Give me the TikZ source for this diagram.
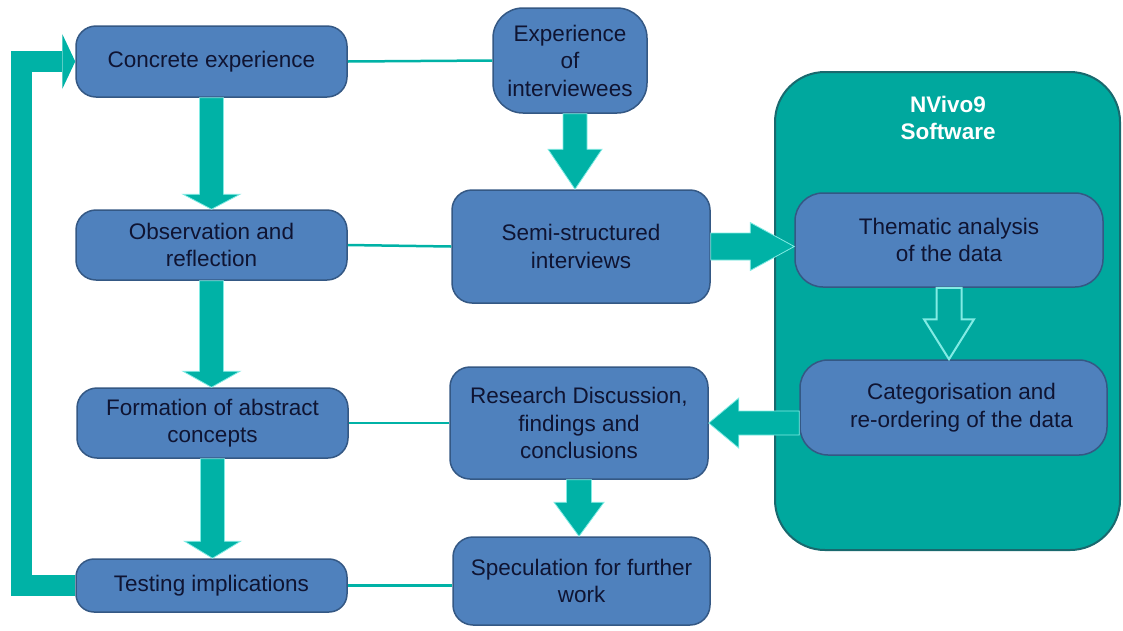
\documentclass[tikz,border=0pt]{standalone}
\usepackage{fontspec}
\setmainfont{Liberation Sans}
\usetikzlibrary{calc}
\definecolor{boxblue}{RGB}{79,129,189}
\definecolor{boxedge}{RGB}{52,88,132}
\definecolor{txt}{RGB}{15,20,50}
\definecolor{arr}{RGB}{0,178,166}
\definecolor{nvfill}{RGB}{0,168,158}
\definecolor{nvedge}{RGB}{25,105,110}
\definecolor{glow}{RGB}{130,235,228}
% block arrows: [style]{from}{to}{shaft half width}{head half width}{head length}
\newcommand\bdown[6][]{\path[blockarrow,#1] let \p1=(#2),\p2=(#3) in (\x1-#4,\y1)--(\x1-#4,\y2+#6)--(\x1-#5,\y2+#6)--(\x1,\y2)--(\x1+#5,\y2+#6)--(\x1+#4,\y2+#6)--(\x1+#4,\y1)--cycle;}
\newcommand\bright[6][]{\path[blockarrow,#1] let \p1=(#2),\p2=(#3) in (\x1,\y1+#4)--(\x2-#6,\y1+#4)--(\x2-#6,\y1+#5)--(\x2,\y1)--(\x2-#6,\y1-#5)--(\x2-#6,\y1-#4)--(\x1,\y1-#4)--cycle;}
\newcommand\bleft[6][]{\path[blockarrow,#1] let \p1=(#2),\p2=(#3) in (\x1,\y1+#4)--(\x2+#6,\y1+#4)--(\x2+#6,\y1+#5)--(\x2,\y1)--(\x2+#6,\y1-#5)--(\x2+#6,\y1-#4)--(\x1,\y1-#4)--cycle;}
\begin{document}
\begin{tikzpicture}[x=1pt,y=-1pt,
  box/.style={draw=boxedge, fill=boxblue, line width=1.5pt, rounded corners=20pt,
    text=txt, align=center, inner sep=2pt, font=\fontsize{22.5}{27.5}\selectfont},
  conn/.style={draw=arr, line width=2.5pt},
  blockarrow/.style={fill=arr, draw=glow, line width=0.8pt, line join=miter},
  container/.style={draw=nvedge, fill=nvfill, line width=2pt, rounded corners=50pt}]
\useasboundingbox (0,0) rectangle (1123,630);

% NVivo container
\node[container, minimum width=345pt, minimum height=478pt] (nv) at (947.5,311) {};
\node[text=white, align=center, font=\fontsize{22.5}{27.5}\selectfont\bfseries] (ttl) at (948,118) {NVivo9\\Software};

% left column
\node[box, minimum width=271pt, minimum height=71pt] (ce) at (211.5,61.5) {Concrete experience};
\node[box, minimum width=271pt, minimum height=70pt] (ob) at (211.5,245) {Observation and\\reflection};
\node[box, minimum width=271pt, minimum height=70pt] (fa) at (212.5,423) {Formation of abstract\\concepts};
\node[box, minimum width=271pt, minimum height=53pt, rounded corners=18pt] (ti) at (211.5,585.5) {Testing implications};

% middle column
\node[box, minimum width=154pt, minimum height=105pt, rounded corners=30pt] (ex) at (570,60.5) {Experience\\of\\interviewees};
\node[box, minimum width=258pt, minimum height=113pt] (ss) at (581,246.5) {Semi-structured\\interviews};
\node[box, minimum width=258pt, minimum height=112pt] (rd) at (579,423) {Research Discussion,\\findings and\\conclusions};
\node[box, minimum width=257pt, minimum height=88pt] (sp) at (581.5,581) {Speculation for further\\work};

% right boxes
\node[box, minimum width=308pt, minimum height=94pt, rounded corners=28pt] (th) at (949,240) {Thematic analysis\\of the data};
\node[box, minimum width=307pt, minimum height=95pt, rounded corners=28pt] (ca) at (953.5,407.5) {\hspace*{16pt}Categorisation and\\\hspace*{16pt}re-ordering of the data};

% thin connectors
\draw[conn] (ce.east) -- (ex.west);
\draw[conn] (ob.east) -- (ss.west);
\draw[conn] (fa.east) -- (rd.west);
\draw[conn] (ti.east) -- (sp.west |- ti.east);

% block arrows
\bdown{ce.south}{ob.north}{12pt}{28.5pt}{15pt}
\bdown{ob.south}{fa.north}{12pt}{28.5pt}{16pt}
\bdown{fa.south}{ti.north}{12pt}{28pt}{17pt}
\bdown{$(ex.south)+(5,0)$}{ss.north}{12pt}{27pt}{40pt}
\bdown{rd.south}{sp.north}{12.5pt}{25pt}{34pt}
\bright{ss.east}{th.west |- ss.east}{13.5pt}{24pt}{44pt}
\bleft{ca.west |- rd.east}{rd.east}{12pt}{25pt}{30pt}
\bdown[fill=nvfill, draw=glow, line width=2pt]{th.south}{ca.north}{12.5pt}{25pt}{40pt}

% feedback loop
\draw[draw=arr, line width=21pt, line join=miter] (ti.west) -- ++(-54,0) coordinate (fb1) |- ($(ce.west)+(-13,0)$) coordinate (fb2);
\fill[arr] ($(fb2)+(0,-27.5)$) -- (ce.west) -- ($(fb2)+(0,27.5)$) -- cycle;
\end{tikzpicture}
\end{document}
